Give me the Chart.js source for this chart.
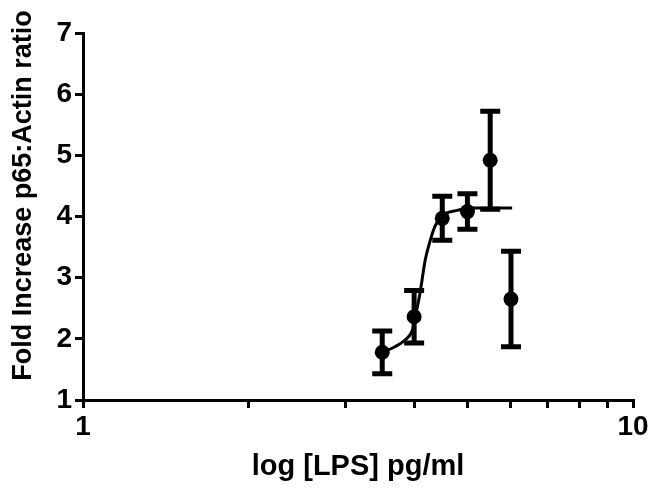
<!DOCTYPE html>
<html>
<head>
<meta charset="utf-8">
<script src="https://cdn.jsdelivr.net/npm/chart.js@4/dist/chart.umd.min.js"></script>
<style>
html, body { margin: 0; padding: 0; background: #fff; }
</style>
</head>
<body>
<canvas id="chart" width="653" height="490"></canvas>
<script>
// data
var doseX = [3.5, 4, 4.5, 5, 5.5, 6];
var meanY = [1.78, 2.36, 3.97, 4.08, 4.92, 2.65];
var semY = [0.35, 0.43, 0.36, 0.29, 0.80, 0.78];
// fitted curve
var fitX = [3.5, 3.69, 3.85, 3.97, 4.02, 4.10, 4.19, 4.28, 4.36, 4.46, 4.59, 4.79, 5.05, 6.03];
var fitY = [1.78, 1.87, 1.98, 2.14, 2.36, 2.75, 3.29, 3.61, 3.83, 3.97, 4.06, 4.10, 4.14, 4.14];
var xTickValues = [1, 2, 3, 4, 5, 6, 7, 8, 9, 10];
var xLabels = [1, 10];
var yTitle = 'Fold Increase p65:Actin ratio';
var xTitle = 'log [LPS] pg/ml';

Chart.defaults.font.family = '"Liberation Sans", Arial, sans-serif';
Chart.defaults.color = '#000';

var points = doseX.map(function (x, i) { return { x: x, y: meanY[i] }; });
var curve = fitX.map(function (x, i) { return { x: x, y: fitY[i] }; });

var errorBars = {
	id: 'errorBars',
	afterDatasetsDraw: function (chart) {
		var ctx = chart.ctx;
		var xs = chart.scales.x, ys = chart.scales.y;
		ctx.save();
		ctx.strokeStyle = '#000';
		ctx.lineWidth = 5;
		ctx.lineCap = 'butt';
		for (var i = 0; i < doseX.length; i++) {
			var px = xs.getPixelForValue(doseX[i]);
			var top = ys.getPixelForValue(meanY[i] + semY[i]);
			var bot = ys.getPixelForValue(meanY[i] - semY[i]);
			ctx.beginPath();
			ctx.moveTo(px, top); ctx.lineTo(px, bot);
			ctx.moveTo(px - 10, top); ctx.lineTo(px + 10, top);
			ctx.moveTo(px - 10, bot); ctx.lineTo(px + 10, bot);
			ctx.stroke();
		}
		ctx.restore();
	}
};

var yTitleDraw = {
	id: 'yTitleDraw',
	afterDraw: function (chart) {
		var ctx = chart.ctx, area = chart.chartArea;
		ctx.save();
		ctx.translate(area.left - 59, (area.top + area.bottom) / 2 - 21);
		ctx.rotate(-Math.PI / 2);
		ctx.font = 'bold 27px "Liberation Sans", Arial, sans-serif';
		ctx.fillStyle = '#000';
		ctx.textAlign = 'center';
		ctx.textBaseline = 'middle';
		ctx.fillText(yTitle, 0, 0);
		ctx.restore();
	}
};

var ctx = document.getElementById('chart').getContext('2d');
var chart = new Chart(ctx, {
	type: 'scatter',
	data: {
		datasets: [{
			data: points,
			pointRadius: 7.5,
			pointBackgroundColor: '#000',
			pointBorderWidth: 0,
			order: 0
		}, {
			data: curve,
			showLine: true,
			pointRadius: 0,
			borderColor: '#000',
			borderWidth: 3,
			cubicInterpolationMode: 'monotone',
			order: 1
		}]
	},
	options: {
		responsive: false,
		animation: false,
		layout: { padding: { top: 33, right: 20, left: 0, bottom: 0 } },
		plugins: {
			legend: { display: false },
			tooltip: { enabled: false }
		},
		scales: {
			x: {
				type: 'logarithmic',
				min: 1,
				max: 10,
				border: { display: true, color: '#000', width: 3 },
				grid: { drawOnChartArea: false, drawTicks: true, tickLength: 8, color: '#000', lineWidth: 3 },
				afterBuildTicks: function (scale) {
					scale.ticks = xTickValues.map(function (v) { return { value: v }; });
				},
				ticks: {
					autoSkip: false,
					maxRotation: 0,
					padding: 2,
					font: { size: 28, weight: 'bold' },
					callback: function (v) {
						return xLabels.indexOf(v) >= 0 ? String(v) : '';
					}
				},
				title: {
					display: true,
					text: xTitle,
					font: { size: 29, weight: 'bold' },
					padding: { top: 4, bottom: 6 }
				},
				afterFit: function (scale) { scale.height = 90; }
			},
			y: {
				min: 1,
				max: 7,
				border: { display: true, color: '#000', width: 3 },
				grid: { drawOnChartArea: false, drawTicks: true, tickLength: 8, color: '#000', lineWidth: 3 },
				ticks: {
					stepSize: 1,
					padding: 3,
					font: { size: 28, weight: 'bold' }
				},
				afterFit: function (scale) { scale.width = 83; }
			}
		}
	},
	plugins: [errorBars, yTitleDraw]
});
</script>
</body>
</html>
